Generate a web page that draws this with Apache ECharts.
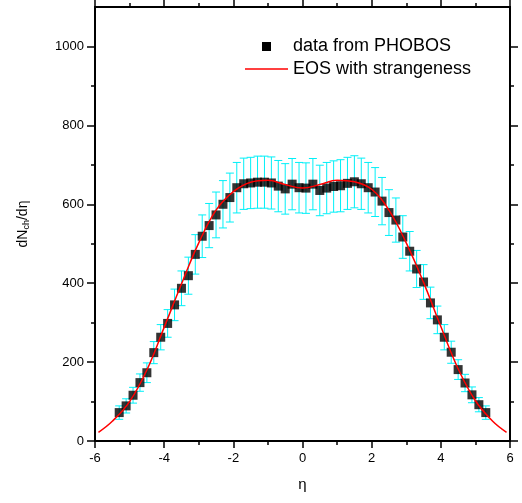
<!DOCTYPE html>
<html>
<head>
<meta charset="utf-8">
<script src="https://cdn.jsdelivr.net/npm/echarts@6/dist/echarts.min.js"></script>
<style>html,body{margin:0;padding:0;background:#fff}#c{width:522px;height:503px}</style>
</head>
<body>
<div id="c"></div>
<script>
// PHOBOS data points (eta, dN/deta, error)
const eta = [-5.3,-5.1,-4.9,-4.7,-4.5,-4.3,-4.1,-3.9,-3.7,-3.5,-3.3,-3.1,-2.9,-2.7,-2.5,-2.3,-2.1,-1.9,-1.7,-1.5,-1.3,-1.1,-0.9,-0.7,-0.5,-0.3,-0.1,
             0.1,0.3,0.5,0.7,0.9,1.1,1.3,1.5,1.7,1.9,2.1,2.3,2.5,2.7,2.9,3.1,3.3,3.5,3.7,3.9,4.1,4.3,4.5,4.7,4.9,5.1,5.3];
const dndeta = [72,89,116,148,173,224,263,298,345,387,419,473,519,546,573,600,617,642,652,654,656,656,654,646,639,651,642,
                641,651,635,641,645,647,653,657,652,642,631,608,579,560,517,481,436,403,350,307,263,225,181,147,117,92,72];
const errs = [17,18,20,22,25,28,32,35,40,44,47,50,54,56,58,60,62,64,65,65,66,66,66,65,64,65,64,
              64,65,64,65,65,66,66,66,65,64,62,60,58,56,54,50,47,44,40,35,32,28,25,22,20,18,17];
// EOS with strangeness curve
const curveEta = [-5.9,-5.5,-5.0,-4.5,-4.0,-3.5,-3.0,-2.5,-2.0,-1.5,-1.0,-0.5,0,0.5,1.0,1.5,2.0,2.5,3.0,3.5,4.0,4.5,5.0,5.5,5.9];
const curveVal = [22,50,100,180,288,398,502,585,632,656,661,650,641,650,661,657,638,585,502,402,290,183,102,50,22];
// axis ticks
const yMajor = [0,200,400,600,800,1000];
const yMinor = [100,300,500,700,900];

const FONT = 'Liberation Sans, Arial, sans-serif';
const chart = echarts.init(document.getElementById('c'));

const pts = eta.map((e,i)=>[e, dndeta[i]]);
const bars = eta.map((e,i)=>[e, dndeta[i]-errs[i], dndeta[i]+errs[i]]);
const curve = curveEta.map((e,i)=>[e, curveVal[i]]);

const lineS = {color:'#000', width:2};
const tickS = {color:'#000', width:1.5};

function xAx(pos, labels){
  return {
    type:'value', min:-6, max:6, interval:2, position:pos,
    axisLine:{show:true, onZero:false, lineStyle:lineS},
    axisTick:{show:true, inside:false, length:7, lineStyle:tickS},
    minorTick:{show:true, splitNumber:2, length:4, lineStyle:tickS},
    splitLine:{show:false}, minorSplitLine:{show:false},
    axisLabel:{show:labels, color:'#000', fontSize:13, fontFamily:FONT, margin:11, formatter:v=>String(v)},
    name: labels ? 'η' : '', nameLocation:'middle', nameGap:36,
    nameTextStyle:{color:'#000', fontSize:15, fontFamily:FONT}
  };
}
function yAx(pos, ticks, len, labels, nameOn){
  return {
    type:'value', min:0, max:1100, position:pos,
    axisLine:{show:true, onZero:false, lineStyle:lineS},
    axisTick:{show:true, inside:false, length:len, customValues:ticks, lineStyle:tickS},
    splitLine:{show:false},
    axisLabel:{show:labels, customValues:yMajor, color:'#000', fontSize:13, fontFamily:FONT, margin:11, formatter:v=>String(v)},
    name: nameOn ? '{a|dN}{b|ch}{a|/dη}' : '', nameLocation:'middle', nameGap:64,
    nameTextStyle:{color:'#000', fontFamily:FONT,
      rich:{a:{fontSize:14, fontFamily:FONT, color:'#000'},
            b:{fontSize:9, fontFamily:FONT, color:'#000', verticalAlign:'bottom', padding:[6,0,0,0]}}}
  };
}

chart.setOption({
  animation:false,
  backgroundColor:'#fff',
  grid:{left:95, right:12, top:7, bottom:62, containLabel:false},
  xAxis:[xAx('bottom', true), xAx('top', false)],
  yAxis:[
    yAx('left', yMajor, 8, true, true),
    yAx('left', yMinor, 4, false, false),
    yAx('right', yMajor, 8, false, false),
    yAx('right', yMinor, 4, false, false)
  ],
  series:[
    {
      type:'custom', xAxisIndex:0, yAxisIndex:0, z:2,
      data:bars,
      renderItem:function(params, api){
        const x = api.value(0);
        const lo = api.coord([x, api.value(1)]);
        const hi = api.coord([x, api.value(2)]);
        const hw = 4;
        const st = {stroke:'#00f0f8', lineWidth:1};
        return {type:'group', children:[
          {type:'line', shape:{x1:lo[0], y1:lo[1], x2:hi[0], y2:hi[1]}, style:st},
          {type:'line', shape:{x1:lo[0]-hw, y1:lo[1], x2:lo[0]+hw, y2:lo[1]}, style:st},
          {type:'line', shape:{x1:hi[0]-hw, y1:hi[1], x2:hi[0]+hw, y2:hi[1]}, style:st}
        ]};
      }
    },
    {
      type:'scatter', name:'data from PHOBOS', xAxisIndex:0, yAxisIndex:0, z:3,
      data:pts, symbol:'rect', symbolSize:9,
      itemStyle:{color:'#000'}
    },
    {
      type:'line', name:'EOS with strangeness', xAxisIndex:0, yAxisIndex:0, z:4,
      data:curve, smooth:0.4, showSymbol:false, symbol:'none',
      lineStyle:{color:'#ff0000', width:1.5}
    }
  ],
  graphic:[
    {type:'rect', left:262, top:42, shape:{width:9, height:9}, style:{fill:'#000'}},
    {type:'text', left:293, top:37, style:{text:'data from PHOBOS', fontSize:18, fontFamily:FONT, fill:'#000'}},
    {type:'line', shape:{x1:245, y1:69, x2:288, y2:69}, style:{stroke:'#ff0000', lineWidth:1.5}},
    {type:'text', left:293, top:60, style:{text:'EOS with strangeness', fontSize:18, fontFamily:FONT, fill:'#000'}}
  ]
});
</script>
</body>
</html>
